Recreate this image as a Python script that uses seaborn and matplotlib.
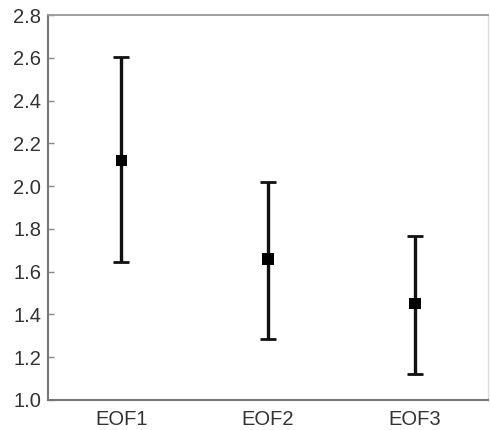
import matplotlib
matplotlib.use("Agg")
import matplotlib.pyplot as plt
import seaborn as sns
import numpy as np
import pandas as pd

categories = ["EOF1", "EOF2", "EOF3"]
means = [2.12, 1.66, 1.45]
lower = [1.645, 1.285, 1.12]
upper = [2.605, 2.02, 1.765]
y_ticks = [1.0, 1.2, 1.4, 1.6, 1.8, 2.0, 2.2, 2.4, 2.6, 2.8]

sns.set_theme(style="white")
plt.rcParams["font.family"] = ["Liberation Sans", "DejaVu Sans"]

df = pd.DataFrame({"cat": categories, "mean": means, "lo": lower, "hi": upper})

fig = plt.figure(figsize=(4.9, 4.3), dpi=100)
ax = fig.add_axes([0.098, 0.07, 0.898, 0.895])

yerr = [df["mean"] - df["lo"], df["hi"] - df["mean"]]
ax.errorbar(df["cat"], df["mean"], yerr=yerr, fmt="none", ecolor="#111111",
            elinewidth=2.4, capsize=5.5, capthick=2.0, zorder=2)
sns.scatterplot(data=df, x="cat", y="mean", marker="s", s=70, color="#000000",
                edgecolor="none", ax=ax, zorder=3)

ax.set_xlim(-0.5, 2.5)
ax.set_ylim(1.0, 2.8)
ax.set_yticks(y_ticks)
ax.set_yticklabels([f"{v:.1f}" for v in y_ticks])
ax.set_xlabel("")
ax.set_ylabel("")

ax.set_xticks([0, 1, 2])
ax.set_xticks([0.5, 1.5], minor=True)
ax.tick_params(axis="x", which="major", length=0, labelsize=14.5, labelcolor="#333333", pad=7)
ax.tick_params(axis="x", which="minor", direction="in", length=4, width=1, color="#777777")
ax.tick_params(axis="y", which="major", direction="in", length=4, width=1, color="#888888",
               labelsize=14.5, labelcolor="#333333", pad=5, left=True)

for side in ["left", "bottom"]:
    ax.spines[side].set_color("#777777")
    ax.spines[side].set_linewidth(1.5)
ax.spines["top"].set_color("#999999")
ax.spines["top"].set_linewidth(1.3)
ax.spines["right"].set_color("#dddddd")
ax.spines["right"].set_linewidth(1.0)

fig.savefig("out.png", dpi=100)
